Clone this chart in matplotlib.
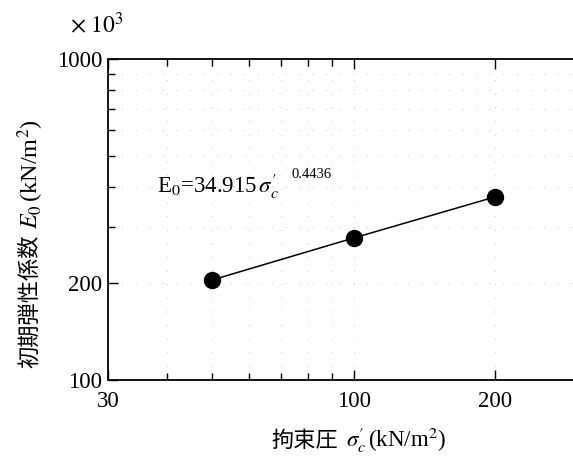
import matplotlib
matplotlib.use("Agg")
import matplotlib.pyplot as plt
from matplotlib.ticker import FixedLocator, FixedFormatter, NullFormatter

plt.rcParams['font.family'] = ['Liberation Serif', 'Noto Sans CJK JP']
plt.rcParams['mathtext.fontset'] = 'stix'

# Confining pressure (kN/m^2) and initial elastic modulus (x10^3 kN/m^2)
confining_pressure = [50, 100, 200]
initial_modulus = [205, 277, 372]

x_major = [30, 100, 200]
x_major_labels = ['30', '100', '200']
x_minor = [40, 50, 60, 70, 80, 90, 300]
y_major = [100, 200, 1000]
y_major_labels = ['100', '200', '1000']
y_minor = [300, 400, 500, 600, 700, 800, 900]

fig = plt.figure(figsize=(5.73, 4.59), dpi=100)
W, H = 573, 459
left, right, top, bottom = 108, 578, 59, 380
ax = fig.add_axes([left / W, 1 - bottom / H, (right - left) / W, (bottom - top) / H])

ax.set_xscale('log')
ax.set_yscale('log')
ax.set_xlim(30, 300)
ax.set_ylim(100, 1000)

ax.plot(confining_pressure, initial_modulus, color='black', lw=1.1,
        marker='o', markersize=11.5, markerfacecolor='black',
        markeredgecolor='black', zorder=3)

ax.xaxis.set_major_locator(FixedLocator(x_major))
ax.xaxis.set_major_formatter(FixedFormatter(x_major_labels))
ax.xaxis.set_minor_locator(FixedLocator(x_minor))
ax.xaxis.set_minor_formatter(NullFormatter())
ax.yaxis.set_major_locator(FixedLocator(y_major))
ax.yaxis.set_major_formatter(FixedFormatter(y_major_labels))
ax.yaxis.set_minor_locator(FixedLocator(y_minor))
ax.yaxis.set_minor_formatter(NullFormatter())

ax.tick_params(which='both', direction='in', top=True, right=False,
               labelsize=16.5, width=1.0, colors='black')
ax.tick_params(which='major', length=7)
ax.tick_params(which='minor', length=5)
ax.tick_params(axis='x', pad=8)
ax.tick_params(axis='y', pad=4)

ax.grid(True, which='both', color='#c4c4c4', lw=0.7, linestyle=(0, (1, 13)))
ax.set_axisbelow(True)

for s in ['left', 'bottom', 'top']:
    ax.spines[s].set_linewidth(1.3)
ax.spines['right'].set_visible(False)

# Fitted power law annotation
ax.text(157 / W, 1 - 193 / H, r"E$_0$=34.915$\,\sigma^{\prime}_c$",
        transform=fig.transFigure, fontsize=16.5, ha='left', va='baseline')
ax.text(292 / W, 1 - 178 / H, "0.4436", transform=fig.transFigure,
        fontsize=10.5, ha='left', va='baseline')

fig.text(70 / W, 1 - 25 / H, r"$\times\ 10^3$", fontsize=17,
         ha='left', va='center')

# x-axis label
fig.text(338 / W, 1 - 440 / H, "拘束圧", fontsize=16,
         ha='right', va='center', family=['Noto Sans CJK JP'])
fig.text(346 / W, 1 - 440 / H, r"$\sigma^{\prime}_c\,$(kN/m$^2$)",
         fontsize=16.5, ha='left', va='center')

# y-axis label
fig.text(30 / W, 1 - 368 / H, "初期弾性係数", fontsize=16,
         ha='center', va='bottom', rotation=90, family=['Noto Sans CJK JP'])
fig.text(31 / W, 1 - 229 / H, r"$E_0\,$(kN/m$^2$)", fontsize=17.5,
         ha='center', va='bottom', rotation=90)

fig.savefig('out.png', dpi=100)
